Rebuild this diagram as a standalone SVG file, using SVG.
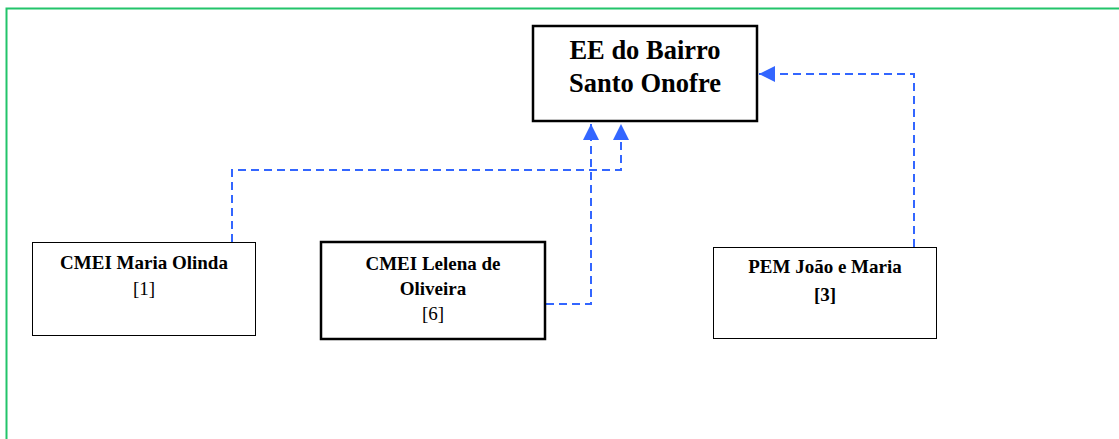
<svg xmlns="http://www.w3.org/2000/svg" width="1119" height="439" viewBox="0 0 1119 439">
<defs>
<style>
.frame{fill:none;stroke:#22c46a;stroke-width:2}
.box{fill:#fff;stroke:#000}
.thin{stroke-width:1}
.thick{stroke-width:2.5}
.t{font-family:"Liberation Serif","Times New Roman",serif;fill:#000;text-anchor:middle}
.b{font-weight:bold}
.big{font-size:26.5px}
.sm{font-size:19px}
.con{fill:none;stroke:#3366ff;stroke-width:2;stroke-dasharray:8 5}
</style>
<marker id="ah" viewBox="0 0 10 10" refX="10" refY="5" markerWidth="8" markerHeight="8" markerUnits="strokeWidth" orient="auto">
<path d="M0,0 L10,5 L0,10 Z" fill="#3366ff"/>
</marker>
</defs>
<rect width="1119" height="439" fill="#fff"/>
<path class="frame" d="M6.5,450 V8.5 H1130"/>
<g id="connectors">
<path class="con" d="M232,242 V170 H621 V124" marker-end="url(#ah)"/>
<path class="con" d="M546,304 H591 V124" marker-end="url(#ah)"/>
<path class="con" d="M914,247 V74 H759" marker-end="url(#ah)"/>
</g>
<g id="ee">
<rect class="box thick" x="533" y="26" width="224" height="95"/>
<text class="t b big" x="645" y="59">EE do Bairro</text>
<text class="t b big" x="645" y="92">Santo Onofre</text>
</g>
<g id="cmei-maria">
<rect class="box thin" x="32.5" y="242.5" width="223" height="93"/>
<text class="t b sm" x="144" y="269">CMEI Maria Olinda</text>
<text class="t sm" x="144" y="295">[1]</text>
</g>
<g id="cmei-lelena">
<rect class="box thick" x="321" y="242" width="224" height="97"/>
<text class="t b sm" x="433" y="270">CMEI Lelena de</text>
<text class="t b sm" x="433" y="295">Oliveira</text>
<text class="t sm" x="433" y="320">[6]</text>
</g>
<g id="pem">
<rect class="box thin" x="713.5" y="247.5" width="223" height="91"/>
<text class="t b sm" x="825" y="273">PEM João e Maria</text>
<text class="t b sm" x="825" y="301">[3]</text>
</g>
</svg>
